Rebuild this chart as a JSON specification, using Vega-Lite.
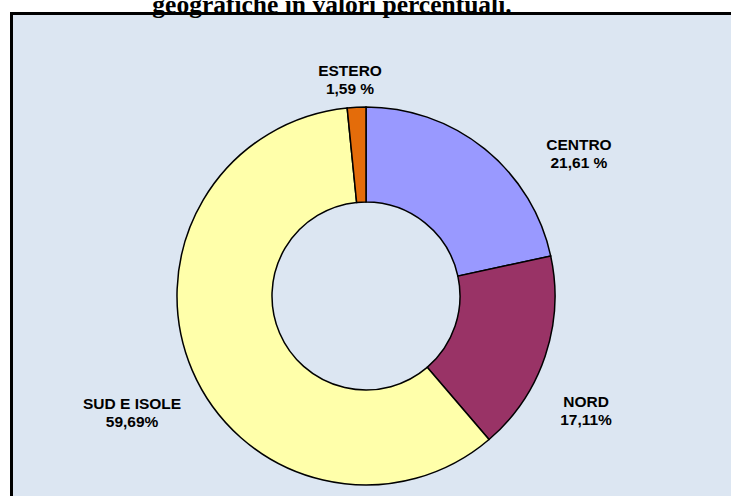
{
  "$schema": "https://vega.github.io/schema/vega-lite/v6.json",
  "usermeta": {"embedOptions": {"actions": false}},
  "autosize": {"type": "none"},
  "padding": {"left": 11, "top": 13, "right": 0, "bottom": 0},
  "width": 720,
  "height": 483,
  "background": "white",
  "view": {"fill": "#DCE6F2", "stroke": null},
  "title": {
    "text": "geografiche in valori percentuali.",
    "font": "Liberation Serif",
    "fontSize": 25.5,
    "fontWeight": "bold",
    "color": "black",
    "anchor": "middle",
    "frame": "group",
    "dx": -39,
    "offset": -26,
    "baseline": "alphabetic"
  },
  "data": {
    "values": [
      {"area": "CENTRO", "pct": 21.61, "ord": 1, "label": "CENTRO\n21,61 %"},
      {"area": "NORD", "pct": 17.11, "ord": 2, "label": "NORD\n17,11%"},
      {"area": "SUD E ISOLE", "pct": 59.69, "ord": 3, "label": "SUD E ISOLE\n59,69%"},
      {"area": "ESTERO", "pct": 1.59, "ord": 4, "label": "ESTERO\n1,59 %"}
    ]
  },
  "layer": [
    {
      "mark": {"type": "point", "opacity": 0},
      "encoding": {
        "x": {"field": "pct", "type": "quantitative", "axis": {"orient": "top", "title": null, "labels": false, "ticks": false, "grid": false, "domainColor": "black", "domainWidth": 3, "domainCap": "square"}},
        "y": {"field": "pct", "type": "quantitative", "axis": {"orient": "left", "title": null, "labels": false, "ticks": false, "grid": false, "domainColor": "black", "domainWidth": 3, "domainCap": "square"}}
      }
    },
    {
      "mark": {"type": "arc", "innerRadius": 94, "outerRadius": 189, "stroke": "black", "strokeWidth": 1.5, "xOffset": -5, "yOffset": 41.5},
      "encoding": {
        "theta": {"field": "pct", "type": "quantitative", "stack": true},
        "order": {"field": "ord", "type": "quantitative"},
        "color": {
          "field": "area",
          "type": "nominal",
          "scale": {"domain": ["CENTRO", "NORD", "SUD E ISOLE", "ESTERO"], "range": ["#9999FF", "#993366", "#FFFFAA", "#E46C0A"]},
          "legend": null
        }
      }
    },
    {
      "mark": {"type": "text", "radius": 230, "dx": -9.5, "dy": 46, "font": "Liberation Sans", "fontSize": 15.5, "fontWeight": "bold", "color": "black", "align": "center", "baseline": "middle", "lineBreak": "\n", "lineHeight": 18},
      "encoding": {
        "theta": {"field": "pct", "type": "quantitative", "stack": true},
        "order": {"field": "ord", "type": "quantitative"},
        "text": {"condition": {"test": "datum.area === 'ESTERO'", "field": "label"}, "value": ""}
      }
    },
    {
      "mark": {"type": "text", "radius": 230, "dx": 63.5, "dy": 70, "font": "Liberation Sans", "fontSize": 15.5, "fontWeight": "bold", "color": "black", "align": "center", "baseline": "middle", "lineBreak": "\n", "lineHeight": 18},
      "encoding": {
        "theta": {"field": "pct", "type": "quantitative", "stack": true},
        "order": {"field": "ord", "type": "quantitative"},
        "text": {"condition": {"test": "datum.area === 'CENTRO'", "field": "label"}, "value": ""}
      }
    },
    {
      "mark": {"type": "text", "radius": 230, "dx": -3, "dy": 74, "font": "Liberation Sans", "fontSize": 15.5, "fontWeight": "bold", "color": "black", "align": "center", "baseline": "middle", "lineBreak": "\n", "lineHeight": 18},
      "encoding": {
        "theta": {"field": "pct", "type": "quantitative", "stack": true},
        "order": {"field": "ord", "type": "quantitative"},
        "text": {"condition": {"test": "datum.area === 'NORD'", "field": "label"}, "value": ""}
      }
    },
    {
      "mark": {"type": "text", "radius": 230, "dx": -27.5, "dy": 59.5, "font": "Liberation Sans", "fontSize": 15.5, "fontWeight": "bold", "color": "black", "align": "center", "baseline": "middle", "lineBreak": "\n", "lineHeight": 18},
      "encoding": {
        "theta": {"field": "pct", "type": "quantitative", "stack": true},
        "order": {"field": "ord", "type": "quantitative"},
        "text": {"condition": {"test": "datum.area === 'SUD E ISOLE'", "field": "label"}, "value": ""}
      }
    }
  ],
  "config": {
    "view": {"fill": "#DCE6F2", "stroke": null}
  }
}
